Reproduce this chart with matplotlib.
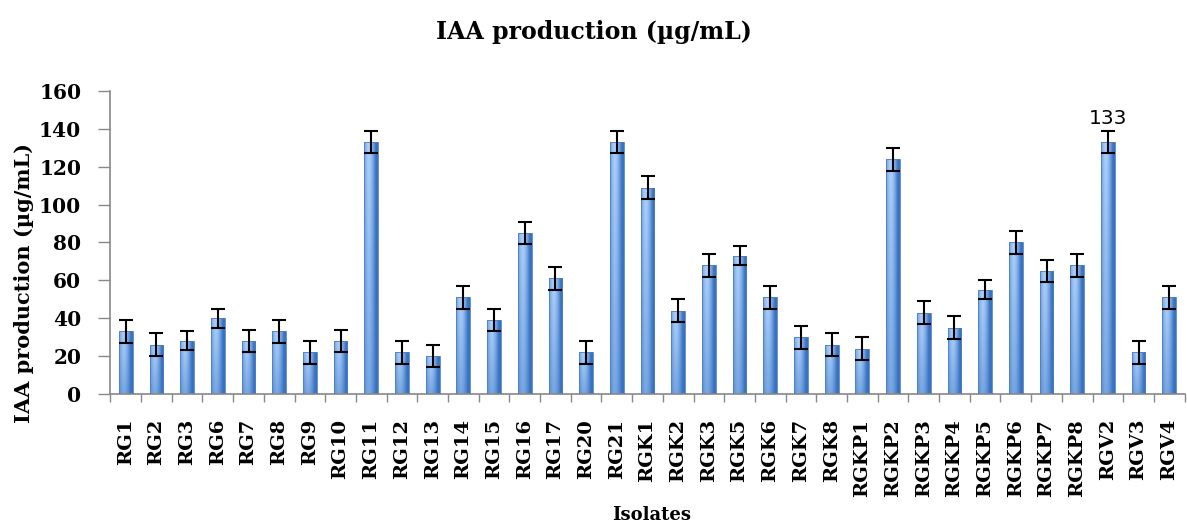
import matplotlib
matplotlib.use("Agg")
import matplotlib.pyplot as plt
import numpy as np

isolates = ["RG1", "RG2", "RG3", "RG6", "RG7", "RG8", "RG9", "RG10", "RG11", "RG12",
            "RG13", "RG14", "RG15", "RG16", "RG17", "RG20", "RG21",
            "RGK1", "RGK2", "RGK3", "RGK5", "RGK6", "RGK7", "RGK8",
            "RGKP1", "RGKP2", "RGKP3", "RGKP4", "RGKP5", "RGKP6", "RGKP7", "RGKP8",
            "RGV2", "RGV3", "RGV4"]
iaa = [33, 26, 28, 40, 28, 33, 22, 28, 133, 22,
       20, 51, 39, 85, 61, 22, 133,
       109, 44, 68, 73, 51, 30, 26,
       24, 124, 43, 35, 55, 80, 65, 68,
       133, 22, 51]
errors = [6, 6, 5, 5, 6, 6, 6, 6, 6, 6,
          6, 6, 6, 6, 6, 6, 6,
          6, 6, 6, 5, 6, 6, 6,
          6, 6, 6, 6, 5, 6, 6, 6,
          6, 6, 6]
y_ticks = [0, 20, 40, 60, 80, 100, 120, 140, 160]
annot_label = "133"
annot_index = 32

SERIF = "DejaVu Serif"

fig = plt.figure(figsize=(11.87, 5.26), dpi=100)
ax = fig.add_axes([0.093, 0.251, 0.905, 0.576])

x = np.arange(len(isolates))
bars = ax.bar(x, iaa, width=0.45, color="none", edgecolor="#4f7fc0",
              linewidth=0.6, zorder=3)

# gradient fill clipped to each bar
nx, ny = 64, 64
t = np.linspace(0, 1, nx)
h = 1 - np.abs(2 * t - 0.7) ** 1.6
h = np.clip(h, 0, 1)
v = np.linspace(0, 1, ny)[:, None]  # 0 bottom -> 1 top
dark = np.array([0.22, 0.45, 0.76])
light = np.array([0.68, 0.82, 0.99])
mix = (h[None, :] * (0.55 + 0.45 * v))[..., None]
grad = dark + (light - dark) * mix
for rect in bars:
    x0, y0 = rect.get_x(), rect.get_y()
    w, hh = rect.get_width(), rect.get_height()
    im = ax.imshow(grad, extent=[x0, x0 + w, y0, y0 + hh], origin="lower",
                   aspect="auto", interpolation="bilinear", zorder=2)
    im.set_clip_path(rect)

ax.errorbar(x, iaa, yerr=errors, fmt="none", ecolor="black", elinewidth=1.5,
            capsize=5, capthick=1.5, zorder=4)

ax.set_xlim(-0.5, len(isolates) - 0.5)
ax.set_ylim(0, 160)
ax.set_yticks(y_ticks)
ax.set_yticklabels([str(v) for v in y_ticks], fontfamily=SERIF,
                   fontweight="bold", fontsize=14.5)
ax.set_xticks(x)
ax.set_xticklabels(isolates, rotation=90, fontfamily=SERIF,
                   fontweight="bold", fontsize=14)
ax.set_xticks(np.arange(len(isolates) + 1) - 0.5, minor=True)
ax.tick_params(axis="x", which="major", length=0, pad=18)
ax.tick_params(axis="x", which="minor", length=6, color="#888888", width=1)
ax.tick_params(axis="y", length=9, color="#888888", width=1, pad=12)

for s in ["top", "right"]:
    ax.spines[s].set_visible(False)
for s in ["left", "bottom"]:
    ax.spines[s].set_color("#888888")
    ax.spines[s].set_linewidth(1.2)

fig.text(24 / 1187, 1 - 283 / 526, "IAA production (µg/mL)", rotation=90,
         ha="center", va="center", fontfamily=SERIF, fontweight="bold",
         fontsize=15)
fig.text(652 / 1187, 1 - 515 / 526, "Isolates", ha="center", va="center",
         fontfamily=SERIF, fontweight="bold", fontsize=13)

ax.annotate(annot_label, xy=(annot_index, iaa[annot_index] + errors[annot_index]),
            xytext=(0, 2), textcoords="offset points", ha="center", va="bottom",
            fontfamily="DejaVu Sans", fontsize=14.5)

fig.text(0.5, 0.939, "IAA production (µg/mL)", ha="center", va="center",
         fontfamily=SERIF, fontweight="bold", fontsize=17)

fig.savefig("out.png", dpi=100)
